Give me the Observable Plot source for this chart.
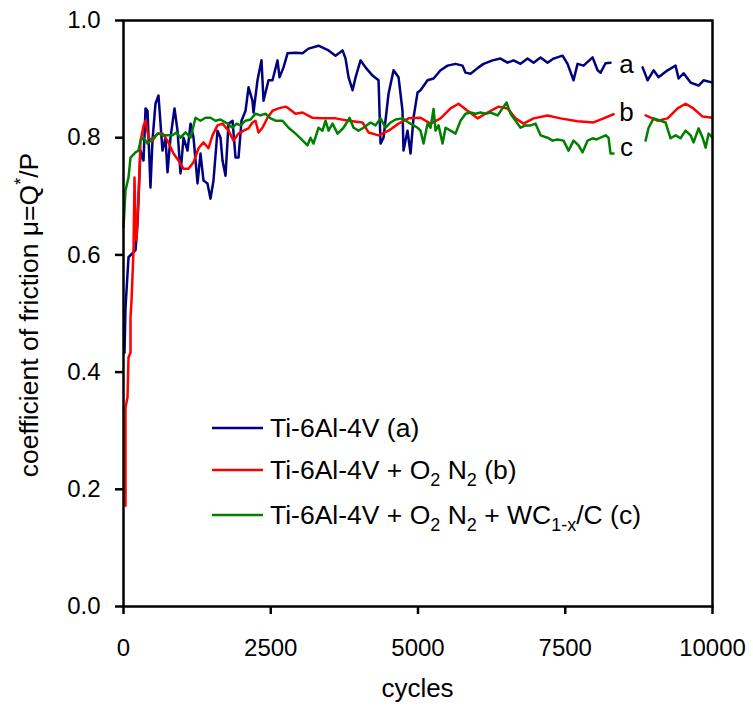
<!DOCTYPE html>
<html>
<head>
<meta charset="utf-8">
<script src="https://cdn.jsdelivr.net/npm/d3@7"></script>
<script src="https://cdn.jsdelivr.net/npm/@observablehq/plot@0.6"></script>
<style>
  html, body { margin: 0; padding: 0; background: #fff; }
  #chart svg { display: block; }
</style>
</head>
<body>
<div id="chart"></div>
<script>
// ---- data (cycles, coefficient of friction) ----
const seriesKeys = ["a", "b", "c"];
const seriesNames = ["Ti-6Al-4V (a)", "Ti-6Al-4V + O2 N2 (b)", "Ti-6Al-4V + O2 N2 + WC1-x/C (c)"];
const seriesColors = ["#000080", "#ff0000", "#008000"];

// Ti-6Al-4V (a); null marks the gap where the end labels sit
const cyclesA = [17,34,85,204,238,289,340,374,408,458,492,543,594,662,713,747,798,866,917,968,1019,1087,1138,1189,1257,1307,1358,1426,1477,1528,1596,1647,1681,1732,1783,1851,1902,1953,2004,2072,2123,2190,2207,2275,2343,2377,2462,2530,2615,2649,2717,2785,2921,3039,3141,3311,3481,3600,3719,3770,3821,3889,3940,4024,4109,4228,4330,4364,4415,4500,4585,4670,4737,4754,4822,4873,4924,4992,5043,5162,5264,5383,5502,5637,5756,5807,5892,6028,6113,6265,6401,6520,6622,6741,6860,6962,7081,7200,7301,7454,7539,7641,7709,7811,7964,8049,8100,8184,8269,8540,8813,8898,9000,9084,9237,9373,9424,9509,9628,9764,9849,10000];
const muA = [0.433,0.51,0.596,0.608,0.654,0.778,0.761,0.85,0.846,0.715,0.795,0.858,0.872,0.778,0.8,0.741,0.8,0.85,0.812,0.739,0.8,0.778,0.824,0.8,0.722,0.773,0.727,0.722,0.696,0.727,0.812,0.8,0.761,0.735,0.824,0.829,0.766,0.766,0.829,0.846,0.886,0.863,0.843,0.898,0.932,0.863,0.898,0.898,0.932,0.903,0.92,0.944,0.945,0.944,0.952,0.957,0.949,0.94,0.949,0.935,0.903,0.881,0.903,0.932,0.92,0.906,0.898,0.79,0.8,0.875,0.915,0.903,0.846,0.778,0.812,0.773,0.834,0.877,0.881,0.898,0.901,0.915,0.923,0.926,0.923,0.911,0.909,0.92,0.926,0.932,0.935,0.928,0.932,0.926,0.935,0.928,0.937,0.928,0.935,0.94,0.926,0.898,0.926,0.923,0.937,0.915,0.911,0.927,0.928,null,0.92,0.898,0.915,0.903,0.915,0.923,0.901,0.91,0.894,0.889,0.898,0.894];

// Ti-6Al-4V + O2 N2 (b)
const cyclesB = [34,34,68,85,119,119,136,170,187,204,221,255,289,340,374,425,492,577,662,747,849,934,1019,1104,1189,1274,1358,1443,1511,1596,1681,1783,1868,1953,2038,2123,2190,2241,2292,2360,2445,2530,2632,2751,2802,2921,3039,3209,3379,3600,3821,4058,4160,4330,4500,4670,4839,5043,5213,5383,5552,5688,5841,6011,6181,6368,6520,6656,6792,6962,7200,7420,7709,7981,8150,8320,8540,8864,9067,9237,9407,9543,9662,9832,10000];
const muB = [0.172,0.34,0.357,0.425,0.433,0.493,0.522,0.607,0.732,0.64,0.625,0.7,0.795,0.82,0.829,0.8,0.795,0.807,0.807,0.795,0.773,0.761,0.747,0.747,0.758,0.782,0.792,0.782,0.804,0.821,0.824,0.812,0.795,0.807,0.812,0.816,0.826,0.829,0.809,0.817,0.834,0.846,0.85,0.853,0.85,0.841,0.843,0.834,0.833,0.833,0.829,0.826,0.809,0.804,0.812,0.824,0.833,0.834,0.824,0.833,0.85,0.858,0.846,0.833,0.843,0.853,0.85,0.833,0.824,0.833,0.838,0.833,0.828,0.826,0.833,0.84,null,0.838,0.829,0.833,0.85,0.858,0.851,0.836,0.834];

// Ti-6Al-4V + O2 N2 + WC1-x/C (c)
const cyclesC = [0,34,85,119,204,255,289,340,408,492,594,680,764,832,900,968,1053,1138,1223,1307,1392,1477,1562,1647,1766,1851,1919,1987,2072,2157,2241,2326,2411,2496,2581,2700,2802,2921,3005,3124,3175,3226,3311,3379,3430,3481,3549,3634,3736,3838,3906,3990,4075,4194,4279,4364,4449,4534,4619,4737,4839,4924,4992,5043,5094,5162,5213,5264,5298,5349,5417,5468,5552,5637,5722,5807,5892,5977,6062,6147,6232,6351,6435,6503,6571,6656,6741,6826,6911,6996,7081,7200,7284,7369,7471,7556,7641,7726,7794,7879,7964,8032,8100,8184,8235,8269,8320,8540,8864,8915,9000,9118,9203,9288,9373,9458,9543,9628,9679,9764,9832,9883,9934,10000];
const muC = [0.647,0.71,0.732,0.766,0.775,0.778,0.795,0.8,0.79,0.799,0.807,0.804,0.804,0.804,0.809,0.8,0.809,0.8,0.834,0.829,0.834,0.834,0.829,0.831,0.824,0.817,0.824,0.821,0.829,0.831,0.841,0.838,0.841,0.833,0.829,0.829,0.817,0.807,0.799,0.787,0.8,0.79,0.817,0.812,0.829,0.812,0.824,0.807,0.817,0.834,0.817,0.812,0.817,0.826,0.821,0.833,0.817,0.826,0.831,0.833,0.826,0.821,0.817,0.812,0.79,0.824,0.817,0.849,0.812,0.821,0.79,0.817,0.812,0.807,0.829,0.841,0.843,0.841,0.843,0.841,0.843,0.838,0.85,0.86,0.841,0.829,0.817,0.821,0.821,0.824,0.804,0.8,0.795,0.797,0.795,0.778,0.795,0.787,0.775,0.795,0.799,0.797,0.8,0.804,0.8,0.773,0.773,null,0.795,0.817,0.833,0.829,0.826,0.799,0.804,0.799,0.812,0.804,0.792,0.816,0.8,0.783,0.807,0.8];

// end-of-curve labels
const endLabels = ["a", "b", "c"];
const endLabelX = [8540, 8540, 8540];
const endLabelY = [0.925, 0.843, 0.783];

// axes
const xTicks = [0, 2500, 5000, 7500, 10000];
const yTicks = [0, 0.2, 0.4, 0.6, 0.8, 1.0];
const xTitle = "cycles";

// ---- build table ----
const rows = [];
[[cyclesA, muA], [cyclesB, muB], [cyclesC, muC]].forEach(([xs, ys], i) => {
  xs.forEach((x, j) => rows.push({series: seriesKeys[i], cycles: x, mu: ys[j] == null ? NaN : ys[j]}));
});
const labelRows = endLabels.map((t, i) => ({t, x: endLabelX[i], y: endLabelY[i]}));

const FONT = "'Liberation Sans', Arial, Helvetica, sans-serif";

const chart = Plot.plot({
  width: 753,
  height: 711,
  marginLeft: 123,
  marginRight: 41,
  marginTop: 20,
  marginBottom: 105,
  style: {fontFamily: FONT, fontSize: "24px", color: "#000", background: "#fff", overflow: "visible"},
  x: {domain: [0, 10000]},
  y: {domain: [0, 1]},
  color: {domain: seriesKeys, range: seriesColors},
  marks: [
    Plot.axisX({ticks: xTicks, tickSize: 8, tickPadding: 24, strokeWidth: 2.5, tickFormat: d => String(d), label: null, fontSize: 24}),
    Plot.axisY({ticks: yTicks, tickSize: 8, tickPadding: 15, strokeWidth: 2.5, tickFormat: d3.format(".1f"), label: null, fontSize: 24}),
    Plot.line(rows, {x: "cycles", y: "mu", z: "series", stroke: "series", strokeWidth: 2.5, curve: "linear"}),
    Plot.text(labelRows, {x: "x", y: "y", text: "t", fontSize: 26, fill: "#000", textAnchor: "middle"}),
    Plot.frame({stroke: "#000", strokeWidth: 2.5})
  ]
});

document.getElementById("chart").appendChild(chart);

// ---- titles and legend (real text with sub/superscripts) ----
const svg = d3.select(chart);
function richText(g, parts, attrs, subSize, subShift, supShift) {
  const t = g.append("text");
  Object.entries(attrs).forEach(([k, v]) => t.attr(k, v));
  let shift = 0;
  parts.forEach(p => {
    const want = p.sub ? subShift : p.sup ? supShift : 0;
    const ts = t.append("tspan").text(p.t);
    if (want !== shift) { ts.attr("dy", want - shift); shift = want; }
    if (p.sub || p.sup) ts.attr("font-size", subSize);
  });
  return t;
}
function splitName(name) {
  // O2, N2 and WC1-x get subscripts
  const parts = [];
  const re = /(O)(2)|(N)(2)|(WC)(1-x)/g;
  let last = 0, m;
  while ((m = re.exec(name))) {
    if (m.index > last) parts.push({t: name.slice(last, m.index)});
    const base = m[1] || m[3] || m[5];
    const sub = m[2] || m[4] || m[6];
    parts.push({t: base});
    parts.push({t: sub, sub: true});
    last = re.lastIndex;
  }
  if (last < name.length) parts.push({t: name.slice(last)});
  return parts;
}

const fg = svg.append("g").attr("font-family", FONT).attr("fill", "#000");

// x title
fg.append("text").attr("x", 417.5).attr("y", 697).attr("text-anchor", "middle").attr("font-size", "26px").text(xTitle);

// y title
richText(fg, [{t: "coefficient of friction μ=Q"}, {t: "*", sup: true}, {t: "/P"}],
  {"transform": "translate(38,315) rotate(-90)", "text-anchor": "middle", "font-size": "26.5px"}, "18px", 7, -11);

// legend
const legY = [428, 470, 515];
seriesNames.forEach((name, i) => {
  fg.append("line").attr("x1", 212).attr("x2", 263).attr("y1", legY[i]).attr("y2", legY[i])
    .attr("stroke", seriesColors[i]).attr("stroke-width", 2.5);
  richText(fg, splitName(name), {x: 270, y: legY[i] + 9, "font-size": "26.5px", "text-anchor": "start"}, "18px", 7, -11);
});
</script>
</body>
</html>
